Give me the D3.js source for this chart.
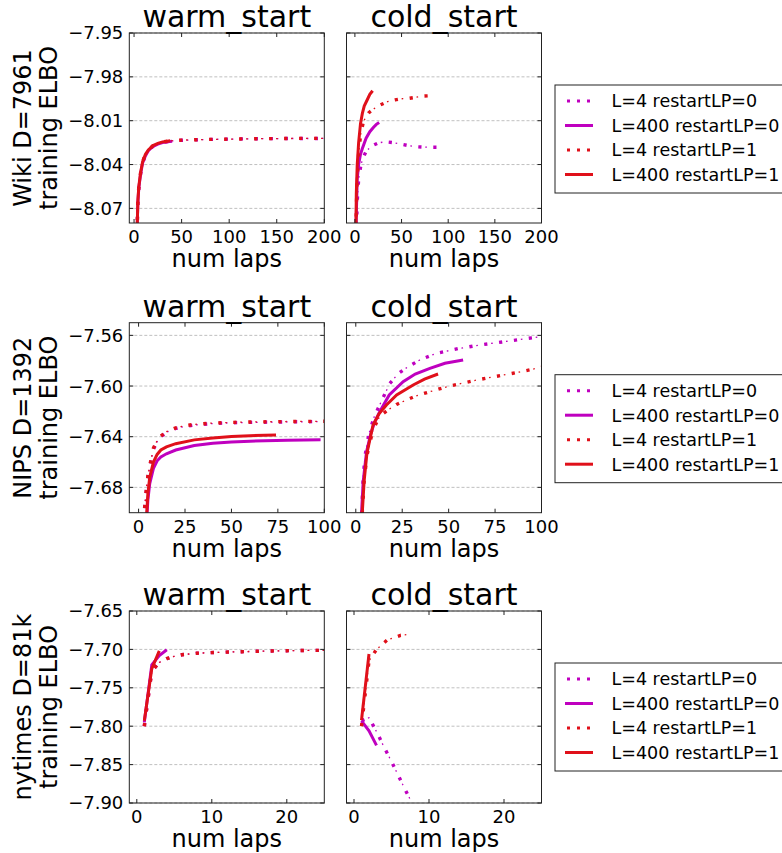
<!DOCTYPE html>
<html>
<head>
<meta charset="utf-8">
<style type="text/css">
	body { margin: 0; background: white; }
	.chart text { font-family: "DejaVu Sans", sans-serif; fill: black; }
	.grid line { stroke: #b0b0b0; stroke-width: 0.8; stroke-dasharray: 3,2; }
</style>
</head>
<body>
<svg class="chart" width="782" height="853"></svg>
<script src="https://cdn.jsdelivr.net/npm/d3@7"></script>
<script>
// legend names, in the order the lines are drawn
const seriesNames = ["L=4 restartLP=0", "L=400 restartLP=0", "L=4 restartLP=1", "L=400 restartLP=1"];
const seriesColors = ["#bf00bf", "#bf00bf", "#e0101a", "#e0101a"];
const seriesDotted = [true, false, true, false];

const panelTitles = ["warm_start", "cold_start"];

// ---- Wiki D=7961 ----
const wikiLabel = ["Wiki D=7961", "training ELBO"];
const wikiYTicks = [-7.95, -7.98, -8.01, -8.04, -8.07];
const wikiXTicks = [0, 50, 100, 150, 200];
const wikiWarm_L4_r0 = [[2,-8.16],[3,-8.09],[4,-8.066],[5,-8.056],[7,-8.046],[9,-8.039],[12,-8.0335],[15,-8.0305],[20,-8.0275],[25,-8.026],[30,-8.025],[40,-8.0238],[50,-8.0234],[60,-8.0232],[80,-8.0228],[100,-8.0226],[120,-8.0224],[140,-8.0223],[160,-8.0222],[180,-8.0222],[200,-8.0221]];
const wikiWarm_L400_r0 = [[2,-8.16],[3,-8.09],[4,-8.066],[5,-8.056],[7,-8.046],[9,-8.039],[12,-8.034],[15,-8.0305],[20,-8.0275],[25,-8.026],[30,-8.025],[35,-8.0245],[40,-8.024]];
const wikiWarm_L4_r1 = [[2,-8.16],[3,-8.09],[4,-8.065],[5,-8.055],[7,-8.045],[9,-8.038],[12,-8.033],[15,-8.030],[20,-8.027],[25,-8.0255],[30,-8.0245],[40,-8.0237],[50,-8.0233],[60,-8.0231],[80,-8.0228],[100,-8.0226],[120,-8.0224],[140,-8.0223],[160,-8.0222],[180,-8.0221],[200,-8.0221]];
const wikiWarm_L400_r1 = [[2,-8.16],[3,-8.09],[4,-8.065],[5,-8.055],[7,-8.045],[9,-8.038],[12,-8.033],[15,-8.030],[20,-8.027],[25,-8.0255],[30,-8.0245],[35,-8.024],[38,-8.0238]];
const wikiCold_L4_r0 = [[0.5,-8.3],[1,-8.13],[1.5,-8.09],[2.5,-8.065],[4,-8.05],[6,-8.042],[8,-8.0364],[12,-8.031],[18,-8.0273],[25,-8.0252],[33,-8.0244],[41,-8.025],[49,-8.026],[57,-8.027],[65,-8.0278],[73,-8.0281],[81,-8.0282],[90,-8.0282]];
const wikiCold_L400_r0 = [[0.5,-8.25],[1,-8.11],[1.5,-8.075],[2.5,-8.05],[4,-8.04],[6,-8.033],[8,-8.029],[12,-8.022],[16,-8.0175],[20,-8.0145],[23,-8.0125],[26,-8.0112]];
const wikiCold_L4_r1 = [[0.5,-8.25],[1,-8.1],[1.5,-8.07],[2.5,-8.05],[4,-8.033],[6,-8.02],[9,-8.011],[12,-8.007],[15,-8.0045],[20,-8.002],[27,-7.9993],[35,-7.997],[43,-7.9958],[50,-7.995],[58,-7.9947],[65,-7.994],[72,-7.9932],[78,-7.993]];
const wikiCold_L400_r1 = [[0.5,-8.2],[1,-8.09],[1.5,-8.06],[2.5,-8.04],[4,-8.025],[6,-8.012],[8,-8.005],[10,-8.0],[13,-7.996],[16,-7.992],[19,-7.9895]];

// ---- NIPS D=1392 ----
const nipsLabel = ["NIPS D=1392", "training ELBO"];
const nipsYTicks = [-7.56, -7.60, -7.64, -7.68];
const nipsXTicks = [0, 25, 50, 75, 100];
const nipsWarm_L4_r0 = [[2.5,-7.72],[3,-7.70],[4,-7.685],[5,-7.672],[6,-7.664],[8,-7.65],[10,-7.644],[12,-7.64],[15,-7.6365],[20,-7.6335],[25,-7.6318],[30,-7.6308],[40,-7.6296],[50,-7.629],[60,-7.6287],[70,-7.6285],[80,-7.6283],[90,-7.6282],[98,-7.628]];
const nipsWarm_L400_r0 = [[3.5,-7.76],[4.6,-7.70],[5,-7.69],[6,-7.677],[8,-7.665],[10,-7.659],[12,-7.656],[15,-7.6535],[20,-7.6505],[30,-7.647],[40,-7.6452],[50,-7.6442],[60,-7.6435],[80,-7.6428],[98,-7.6424]];
const nipsWarm_L4_r1 = [[2.5,-7.72],[3,-7.70],[4,-7.684],[5,-7.671],[6,-7.663],[8,-7.649],[10,-7.643],[12,-7.6395],[15,-7.636],[20,-7.633],[25,-7.6313],[30,-7.6303],[40,-7.6292],[50,-7.6287],[60,-7.6284],[70,-7.6282],[80,-7.628],[90,-7.6279],[100,-7.6278]];
const nipsWarm_L400_r1 = [[3.5,-7.75],[4.4,-7.70],[5,-7.685],[6,-7.672],[8,-7.66],[10,-7.654],[12,-7.6505],[15,-7.648],[20,-7.6455],[30,-7.6425],[40,-7.641],[50,-7.6398],[60,-7.6392],[74,-7.6387]];
const nipsCold_L4_r0 = [[2.5,-7.76],[3.2,-7.70],[4,-7.672],[5,-7.655],[7,-7.638],[10,-7.624],[13.8,-7.612],[18.3,-7.598],[23,-7.59],[28.2,-7.5847],[35,-7.579],[43.4,-7.5742],[55,-7.5705],[66.8,-7.5676],[80,-7.565],[92.9,-7.5623],[100,-7.561]];
const nipsCold_L400_r0 = [[2.5,-7.76],[3.1,-7.70],[4,-7.675],[5.8,-7.6518],[8,-7.638],[10,-7.629],[12.9,-7.6203],[18,-7.607],[25.5,-7.5966],[32,-7.5905],[39.9,-7.586],[48,-7.582],[57.8,-7.5794]];
const nipsCold_L4_r1 = [[2.8,-7.76],[3.5,-7.70],[4.5,-7.675],[6,-7.655],[9,-7.636],[12,-7.626],[14.5,-7.622],[17.4,-7.6189],[22,-7.6145],[27.3,-7.611],[33,-7.6075],[39.9,-7.6045],[48,-7.601],[57.8,-7.5976],[66,-7.595],[75.8,-7.5923],[88,-7.589],[100,-7.5852]];
const nipsCold_L400_r1 = [[2.8,-7.76],[3.5,-7.70],[4.5,-7.675],[6,-7.653],[9.3,-7.6308],[12.5,-7.622],[16.5,-7.615],[22,-7.607],[30.9,-7.5992],[37,-7.5945],[44.3,-7.5905]];

// ---- nytimes D=81k ----
const nytLabel = ["nytimes D=81k", "training ELBO"];
const nytYTicks = [-7.65, -7.70, -7.75, -7.80, -7.85, -7.90];
const nytXTicks = [0, 10, 20];
const nytWarm_L4_r0 = [[1,-7.80],[2,-7.728],[3,-7.717],[4,-7.712],[5,-7.709],[6,-7.707],[8,-7.705],[10.5,-7.704],[12,-7.7035],[14,-7.703],[16,-7.7025],[18,-7.702],[20,-7.7017],[22,-7.7014],[25,-7.7012]];
const nytWarm_L400_r0 = [[1,-7.795],[2,-7.72],[3,-7.708],[4,-7.7005]];
const nytWarm_L4_r1 = [[1,-7.80],[2,-7.728],[3,-7.717],[4,-7.712],[5,-7.709],[6,-7.707],[8,-7.705],[10.5,-7.704],[12,-7.7035],[14,-7.703],[16,-7.7025],[18,-7.702],[20,-7.7017],[22,-7.7014],[25,-7.7012]];
const nytWarm_L400_r1 = [[1,-7.793],[2,-7.725],[3,-7.702]];
const nytCold_L4_r0 = [[1,-7.793],[2,-7.789],[3,-7.807],[4,-7.827],[5,-7.846],[6,-7.866],[7,-7.886],[8,-7.905],[9,-7.925]];
const nytCold_L400_r0 = [[1,-7.793],[2,-7.806],[3,-7.825]];
const nytCold_L4_r1 = [[1,-7.80],[2,-7.715],[3,-7.70],[4.4,-7.688],[6.2,-7.6817],[7.3,-7.6805]];
const nytCold_L400_r1 = [[1,-7.792],[2,-7.706]];

// table of rows built from the arrays above
var rows = [
	{top: 33, h: 190, yDomain: [-8.08, -7.95], xDomains: [[-5, 200], [-9, 200]],
	 yTicks: wikiYTicks, xTicks: wikiXTicks, label: wikiLabel,
	 panels: [[wikiWarm_L4_r0, wikiWarm_L400_r0, wikiWarm_L4_r1, wikiWarm_L400_r1],
	          [wikiCold_L4_r0, wikiCold_L400_r0, wikiCold_L4_r1, wikiCold_L400_r1]]},
	{top: 322.7, h: 190, yDomain: [-7.70, -7.55], xDomains: [[-5, 100], [-5, 100]],
	 yTicks: nipsYTicks, xTicks: nipsXTicks, label: nipsLabel,
	 panels: [[nipsWarm_L4_r0, nipsWarm_L400_r0, nipsWarm_L4_r1, nipsWarm_L400_r1],
	          [nipsCold_L4_r0, nipsCold_L400_r0, nipsCold_L4_r1, nipsCold_L400_r1]]},
	{top: 611, h: 192, yDomain: [-7.90, -7.65], xDomains: [[-1, 25], [-1, 25]],
	 yTicks: nytYTicks, xTicks: nytXTicks, label: nytLabel,
	 panels: [[nytWarm_L4_r0, nytWarm_L400_r0, nytWarm_L4_r1, nytWarm_L400_r1],
	          [nytCold_L4_r0, nytCold_L400_r0, nytCold_L4_r1, nytCold_L400_r1]]}
];

var panelLefts = [129.3, 346.5];
var panelWidth = 195;

var svg = d3.select("svg");

function drawSeries(g, pts, i, x, y) {
	var line = d3.line()
		.x(function(d) { return x(d[0]); })
		.y(function(d) { return y(d[1]); });
	if (seriesDotted[i]) {
		// big dots with thin ticks in between
		g.append("path").datum(pts)
			.attr("d", line)
			.attr("fill", "none")
			.attr("stroke", seriesColors[i])
			.attr("stroke-width", 3.4)
			.attr("stroke-dasharray", "3.2,11.8");
		g.append("path").datum(pts)
			.attr("d", line)
			.attr("fill", "none")
			.attr("stroke", seriesColors[i])
			.attr("stroke-width", 1.3)
			.attr("stroke-dasharray", "0,7,1.6,6.4");
	} else {
		g.append("path").datum(pts)
			.attr("d", line)
			.attr("fill", "none")
			.attr("stroke", seriesColors[i])
			.attr("stroke-width", 3);
	}
}

rows.forEach(function(row, r) {
	var y = d3.scaleLinear().domain(row.yDomain).range([row.top + row.h, row.top]);
	var bottom = row.top + row.h;

	row.panels.forEach(function(series, c) {
		var left = panelLefts[c];
		var x = d3.scaleLinear().domain(row.xDomains[c]).range([left, left + panelWidth]);
		var clipId = "clip" + r + "_" + c;

		svg.append("clipPath").attr("id", clipId)
			.append("rect")
			.attr("x", left).attr("y", row.top)
			.attr("width", panelWidth).attr("height", row.h);

		// horizontal grid lines
		svg.append("g").attr("class", "grid")
			.selectAll("line")
			.data(row.yTicks)
			.enter()
			.append("line")
			.attr("x1", left).attr("x2", left + panelWidth)
			.attr("y1", function(d) { return y(d); })
			.attr("y2", function(d) { return y(d); });

		var lines = svg.append("g").attr("clip-path", "url(#" + clipId + ")");
		series.forEach(function(pts, i) { drawSeries(lines, pts, i, x, y); });

		// inward ticks on all four sides
		var ticks = svg.append("g").attr("stroke", "#222").attr("stroke-width", 1);
		row.xTicks.forEach(function(t) {
			ticks.append("line").attr("x1", x(t)).attr("x2", x(t)).attr("y1", bottom).attr("y2", bottom - 4);
			ticks.append("line").attr("x1", x(t)).attr("x2", x(t)).attr("y1", row.top).attr("y2", row.top + 4);
		});
		row.yTicks.forEach(function(t) {
			ticks.append("line").attr("x1", left).attr("x2", left + 4).attr("y1", y(t)).attr("y2", y(t));
			ticks.append("line").attr("x1", left + panelWidth).attr("x2", left + panelWidth - 4).attr("y1", y(t)).attr("y2", y(t));
		});

		// frame
		svg.append("rect")
			.attr("x", left).attr("y", row.top)
			.attr("width", panelWidth).attr("height", row.h)
			.attr("fill", "none")
			.attr("stroke", "#222")
			.attr("stroke-width", 1);

		// x tick labels
		svg.append("g").selectAll("text")
			.data(row.xTicks)
			.enter()
			.append("text")
			.attr("x", function(d) { return x(d); })
			.attr("y", bottom + 20)
			.style("font-size", "18px")
			.style("text-anchor", "middle")
			.text(function(d) { return d; });

		// y tick labels only on the warm_start panel
		if (c == 0) {
			svg.append("g").selectAll("text")
				.data(row.yTicks)
				.enter()
				.append("text")
				.attr("x", left - 6)
				.attr("y", function(d) { return y(d); })
				.attr("dy", "0.36em")
				.style("font-size", "18px")
				.style("text-anchor", "end")
				.text(function(d) { return d3.format(".2f")(d); });
		}

		svg.append("text")
			.attr("x", left + panelWidth / 2)
			.attr("y", row.top - 6)
			.style("font-size", "30px")
			.style("text-anchor", "middle")
			.text(panelTitles[c]);

		svg.append("text")
			.attr("x", left + panelWidth / 2)
			.attr("y", bottom + 44)
			.style("font-size", "24px")
			.style("text-anchor", "middle")
			.text("num laps");
	});

	// two-line y label
	var mid = row.top + row.h / 2;
	[31, 57].forEach(function(bx, k) {
		svg.append("text")
			.attr("transform", "translate(" + bx + "," + mid + ") rotate(-90)")
			.style("font-size", "24px")
			.style("text-anchor", "middle")
			.text(row.label[k]);
	});

	// legend
	var ly = row.top + 52;
	var legend = svg.append("g");
	legend.append("rect")
		.attr("x", 555).attr("y", ly)
		.attr("width", 235).attr("height", 108)
		.attr("fill", "white")
		.attr("stroke", "#222")
		.attr("stroke-width", 1);
	seriesNames.forEach(function(name, i) {
		var ey = ly + 16 + i * 24.5;
		var sample = legend.append("line")
			.attr("x1", 565).attr("x2", 593)
			.attr("y1", ey).attr("y2", ey)
			.attr("stroke", seriesColors[i])
			.attr("stroke-width", 3);
		if (seriesDotted[i]) sample.attr("x1", 567).attr("stroke-dasharray", "3,7");
		legend.append("text")
			.attr("x", 611.5)
			.attr("y", ey)
			.attr("dy", "0.36em")
			.style("font-size", "17.5px")
			.text(name);
	});
});
</script>
</body>
</html>
